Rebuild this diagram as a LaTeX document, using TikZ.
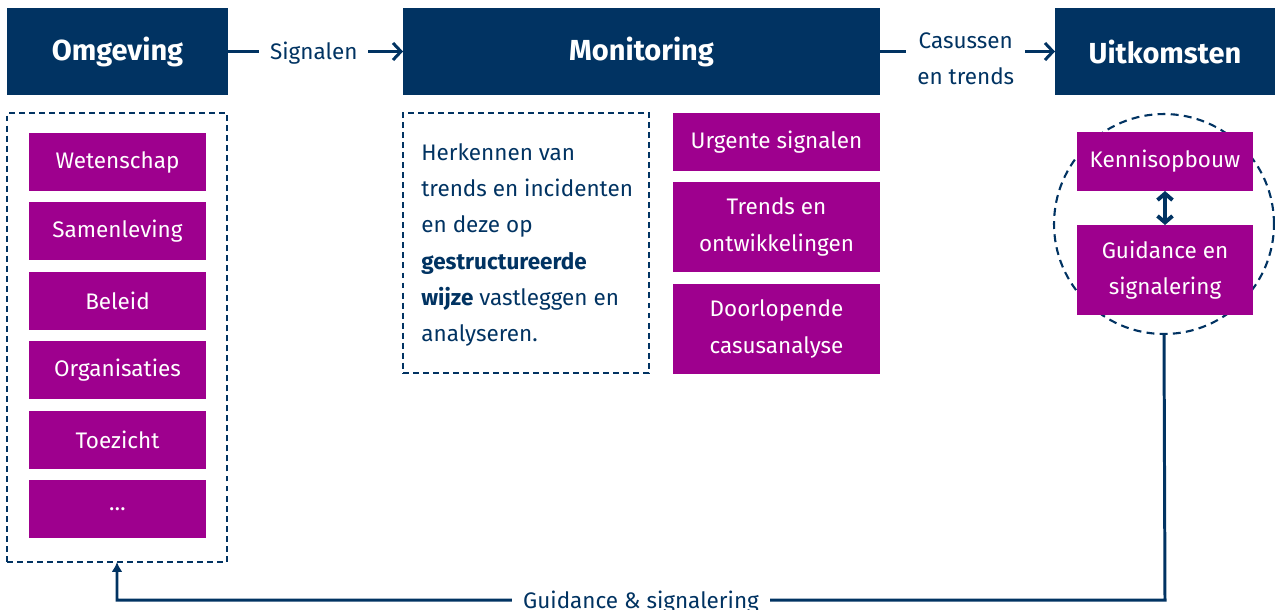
\documentclass[tikz,border=0pt]{standalone}
\usepackage{fontspec}
\setmainfont{Fira Sans}
\usepackage{tikz}
\usetikzlibrary{arrows.meta,positioning,calc}
\definecolor{donkerblauw}{RGB}{1,51,98}
\definecolor{paars}{RGB}{158,0,142}

\begin{document}
\begin{tikzpicture}[x=0.02cm,y=-0.02cm,
kop/.style={fill=donkerblauw,text=white,font=\fontsize{16.5}{18}\selectfont\bfseries,minimum height=1.74cm,inner sep=0pt,outer sep=0pt},
blok/.style={fill=paars,text=white,align=center,font=\fontsize{12.8}{20.7}\selectfont,minimum height=1.16cm,inner sep=0pt,outer sep=0pt},
kader/.style={draw=donkerblauw,line width=1.2pt,dash pattern=on 3.4pt off 2.3pt,inner sep=0pt,outer sep=0pt},
cirkel/.style={circle,draw=donkerblauw,line width=1.2pt,dash pattern=on 4.5pt off 3pt,minimum size=4.4cm,inner sep=0pt,outer sep=0pt},
pijl/.style={-{Straight Barb[length=1.6mm,width=3.4mm]},line width=1.7pt,draw=donkerblauw},
terug/.style={-{Latex[length=2mm,width=2.2mm]},line width=1.7pt,draw=donkerblauw},
dubbel/.style={{Straight Barb[length=1.3mm,width=3mm]}-{Straight Barb[length=1.3mm,width=3mm]},line width=2.2pt,draw=donkerblauw},
lbl/.style={fill=white,text=donkerblauw,font=\fontsize{12.8}{20.7}\selectfont,align=center,inner xsep=0.22cm,inner ysep=1pt}
]
\useasboundingbox (0,0) rectangle (1275,609);

% koppen
\node[kop,minimum width=4.42cm] (omgeving) at (117.5,51.5) {Omgeving};
\node[kop,minimum width=9.54cm] (monitoring) at (641.5,51.5) {Monitoring};
\node[kop,minimum width=4.4cm] (uitkomsten) at (1165,51.5) {Uitkomsten};

\draw[pijl] (omgeving) -- (monitoring) node[lbl,pos=0.49,yshift=-0.03cm]{Signalen};
\draw[pijl] (monitoring) -- (uitkomsten) node[lbl,pos=0.49,yshift=-0.14cm]{Casussen\\en trends};

% omgeving
\node[kader,minimum width=4.4cm,minimum height=8.98cm] (omgevingkader) at (117,337.5) {};
\node[blok,minimum width=3.54cm] (wetenschap) at (117.5,162) {Wetenschap};
\node[blok,minimum width=3.54cm] (samenleving) at (117.5,231) {Samenleving};
\node[blok,minimum width=3.54cm] (beleid) at (117.5,301) {Beleid};
\node[blok,minimum width=3.54cm] (organisaties) at (117.5,370) {Organisaties};
\node[blok,minimum width=3.54cm] (toezicht) at (117.5,440) {Toezicht};
\node[blok,minimum width=3.54cm] (overig) at (117.5,509) {\dots};

% monitoring
\node[kader,minimum width=4.92cm,minimum height=5.2cm] (monitoringkader) at (526,243) {};
\node[anchor=west,align=left,text=donkerblauw,font=\fontsize{12.8}{20.7}\selectfont,inner sep=0pt] (omschrijving) at (421,245)
  {Herkennen van\\trends en incidenten\\en deze op\\\textbf{gestructureerde}\\\textbf{wijze} vastleggen en\\analyseren.};
\node[blok,minimum width=4.14cm] (urgent) at (776.5,142) {Urgente signalen};
\node[blok,minimum width=4.14cm,minimum height=1.8cm] (trends) at (776.5,227) {Trends en\\ontwikkelingen};
\node[blok,minimum width=4.14cm,minimum height=1.8cm] (casus) at (776.5,329) {Doorlopende\\casusanalyse};

% uitkomsten
\node[cirkel] (cirkel) at (1164,224) {};
\node[blok,minimum width=3.52cm,minimum height=1.18cm] (kennis) at (1165,161.5) {Kennisopbouw};
\node[blok,minimum width=3.52cm,minimum height=1.8cm] (guidance) at (1165,270) {Guidance en\\signalering};
\draw[dubbel] (kennis) -- (guidance);

% terugkoppeling
\coordinate (hoekrechts) at (1165,600);
\coordinate (hoeklinks) at (117,600);
\draw[terug] (cirkel.south) -- (hoekrechts) -- node[lbl,yshift=-0.04cm]{Guidance \& signalering} (hoeklinks) -- (omgevingkader.south);
\end{tikzpicture}
\end{document}
